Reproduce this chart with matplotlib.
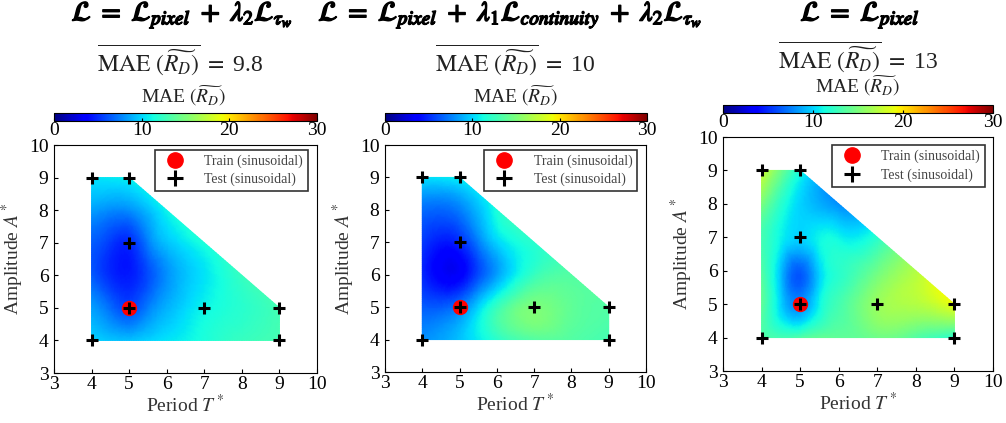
import numpy as np
import matplotlib
matplotlib.use('Agg')
import matplotlib.pyplot as plt
import matplotlib.tri as mtri
import matplotlib.patheffects as pe
from matplotlib.lines import Line2D

plt.rcParams['font.family'] = 'Liberation Serif'
plt.rcParams['mathtext.fontset'] = 'stix'

# sample nodes (period T*, amplitude A*) inside the tested region
T_nodes = [4, 4, 4, 4, 4, 4,
           4.5, 4.5, 4.5,
           5, 5, 5, 5, 5, 5,
           5.5, 5.5, 5.5,
           6, 6, 6, 6, 6,
           7, 7, 7, 7,
           8, 8, 8,
           9, 9]
A_nodes = [4, 5, 6, 7, 8, 9,
           5, 6, 7,
           4, 5, 6, 7, 8, 9,
           5, 6, 7,
           4, 5, 6, 7, 8,
           4, 5, 6, 7,
           4, 5, 6,
           4, 5]

# MAE
mae_tau = [10.0, 8.5, 6.5, 6.5, 8.5, 10.5,
           7.0, 5.0, 5.5,
           9.5, 6.0, 4.5, 5.0, 8.0, 11.0,
           7.5, 6.0, 7.5,
           10.5, 9.0, 8.0, 9.5, 11.0,
           11.5, 11.0, 10.5, 11.5,
           12.5, 12.0, 12.5,
           13.0, 13.0]
mae_cont = [8.0, 6.5, 5.0, 5.5, 7.0, 10.5,
            6.5, 3.5, 4.5,
            9.5, 7.5, 3.5, 5.0, 7.5, 11.0,
            10.0, 6.0, 7.5,
            12.0, 12.5, 8.5, 10.0, 11.5,
            13.5, 15.0, 12.5, 12.0,
            13.5, 14.0, 13.5,
            13.0, 13.5]
mae_pixel = [13.5, 14.0, 13.5, 13.0, 15.0, 18.0,
             10.0, 9.5, 11.0,
             13.5, 8.0, 6.5, 10.0, 10.0, 11.5,
             11.0, 10.0, 11.0,
             14.0, 13.0, 12.0, 11.0, 8.0,
             14.5, 16.0, 14.5, 12.0,
             13.5, 17.0, 17.0,
             12.0, 19.0]

# test / train points
test_T = [4, 5, 5, 5, 7, 9, 9, 4]
test_A = [9, 9, 7, 5, 5, 5, 4, 4]
train_T = [5]
train_A = [5]

formulas = [r'$\mathcal{L}\ =\ \mathcal{L}_{pixel}\ +\ \lambda_2\mathcal{L}_{\tau_w}$',
            r'$\mathcal{L}\ =\ \mathcal{L}_{pixel}\ +\ \lambda_1\mathcal{L}_{continuity}\ +\ \lambda_2\mathcal{L}_{\tau_w}$',
            r'$\mathcal{L}\ =\ \mathcal{L}_{pixel}$']
mae_means = ['9.8', '10', '13']
fields = [mae_tau, mae_cont, mae_pixel]

W, H = 1006, 423
fig = plt.figure(figsize=(W / 100, H / 100), dpi=100)

def px(l, t, w, h):
    return [l / W, 1 - (t + h) / H, w / W, h / H]

ax_boxes = [(54, 145, 263, 228), (385, 145, 261, 227), (723, 137, 270, 234)]
cb_boxes = [(54, 113, 263, 8), (385, 113, 262, 8), (723, 105, 270, 8)]
leg_anchor = [(0.966, 0.98), (0.966, 0.98), (0.97, 0.966)]
formula_pos = [(182, 15), (510, 15), (860, 15)]
mae_pos = [(180, 60), (515, 60), (858, 57)]
cblab_pos = [(183, 96), (515, 96), (857, 86)]

tri = mtri.Triangulation(np.array(T_nodes, float), np.array(A_nodes, float))
refiner = mtri.UniformTriRefiner(tri)

handles = [Line2D([], [], ls='none', marker='o', color='red', ms=11),
           Line2D([], [], ls='none', marker='+', color='black', ms=12, mew=2.2)]

for i in range(3):
    ax = fig.add_axes(px(*ax_boxes[i]))
    z = np.array(fields[i], float)
    tri_f, z_f = refiner.refine_field(z, subdiv=4)
    im = ax.tripcolor(tri_f, z_f, shading='gouraud', cmap='jet', vmin=0, vmax=30)

    ax.plot(train_T, train_A, 'o', color='red', ms=10)
    ax.plot(test_T, test_A, '+', color='black', ms=8, mew=2.2)

    ax.set_xlim(3, 10)
    ax.set_ylim(3, 10)
    ax.set_xticks(range(3, 11))
    ax.set_yticks(range(3, 11))
    ax.tick_params(direction='in', length=3, labelsize=14)
    ax.tick_params(axis='x', pad=2)
    ax.tick_params(axis='y', pad=4)
    ax.set_xlabel(r'Period $T^*$', fontsize=14, labelpad=1, color='#333333')
    ax.set_ylabel(r'Amplitude $A^*$', fontsize=14, labelpad=2, color='#333333')
    leg = ax.legend(handles, ['Train (sinusoidal)', 'Test (sinusoidal)'],
                    loc='upper right', bbox_to_anchor=leg_anchor[i], borderaxespad=0,
                    fontsize=10, frameon=True, fancybox=False, edgecolor='black',
                    borderpad=0.35, handlelength=2.2, labelspacing=0.35, handletextpad=1.0)
    leg.get_frame().set_linewidth(1.2)
    for t in leg.get_texts():
        t.set_color('#444444')

    cax = fig.add_axes(px(*cb_boxes[i]))
    cb = fig.colorbar(im, cax=cax, orientation='horizontal', ticks=[0, 10, 20, 30])
    cb.ax.tick_params(direction='in', length=2, labelsize=14, pad=1)
    cb.outline.set_linewidth(0.8)

    fx, fy = formula_pos[i]
    fig.text(fx / W, 1 - fy / H, formulas[i], ha='center', va='center', fontsize=20,
             path_effects=[pe.withStroke(linewidth=1.1, foreground='black')])
    mx, my = mae_pos[i]
    fig.text(mx / W, 1 - my / H,
             r'$\overline{\mathrm{MAE}\ (\widetilde{R_D})}\ =\ $' + mae_means[i],
             ha='center', va='center', fontsize=17, color='#222222')
    cx, cy = cblab_pos[i]
    fig.text(cx / W, 1 - cy / H, r'MAE $(\widetilde{R_D})$', ha='center', va='center',
             fontsize=14, color='#222222')

fig.savefig('out.png', dpi=100)
